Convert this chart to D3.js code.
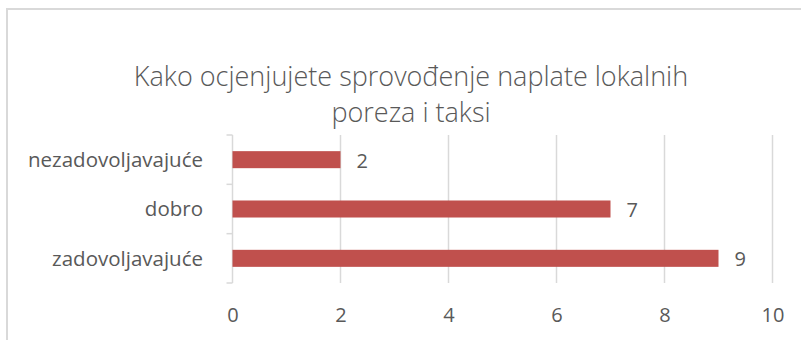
<!DOCTYPE html>
<html>
<head>
<meta charset="utf-8">
<script src="https://cdn.jsdelivr.net/npm/d3@7"></script>
<style>
  html, body { margin: 0; padding: 0; background: #ffffff; }
  svg { display: block; }
  text { font-family: "Open Sans", "Noto Sans", sans-serif; fill: #595959; }
</style>
</head>
<body>
<svg id="chart" width="801" height="340"></svg>
<script>
// Survey answers, listed top to bottom as drawn
const categories = ["nezadovoljavajuće", "dobro", "zadovoljavajuće"];
const values = [2, 7, 9];
const xTicks = [0, 2, 4, 6, 8, 10];
const titleLines = ["Kako ocjenjujete sprovođenje naplate lokalnih", "poreza i taksi"];

const svg = d3.select("#chart");

// Chart frame
svg.append("rect")
  .attr("x", 7).attr("y", 9)
  .attr("width", 820).attr("height", 360)
  .attr("fill", "none")
  .attr("stroke", "#d9d9d9")
  .attr("stroke-width", 2);

const plot = { left: 232.5, right: 772.5, top: 135, bottom: 283 };

const x = d3.scaleLinear().domain([0, 10]).range([plot.left, plot.right]);
const y = d3.scaleBand()
  .domain(categories)
  .range([plot.top, plot.bottom])
  .paddingInner(0.655)
  .paddingOuter(0.3275);

// Title
svg.append("text")
  .attr("text-anchor", "middle")
  .style("font-size", "27px")
  .style("font-weight", 300)
  .selectAll("tspan")
  .data(titleLines)
  .join("tspan")
  .attr("x", 411)
  .attr("y", (d, i) => 86 + i * 36)
  .text(d => d);

// Vertical gridlines
svg.append("g")
  .selectAll("line")
  .data(xTicks.filter(t => t > 0))
  .join("line")
  .attr("x1", d => x(d)).attr("x2", d => x(d))
  .attr("y1", plot.top).attr("y2", plot.bottom)
  .attr("stroke", "#d9d9d9")
  .attr("stroke-width", 1.5);

// Bottom value axis (labels only)
const xAxis = svg.append("g")
  .attr("transform", `translate(0,${plot.bottom})`)
  .call(d3.axisBottom(x).tickValues(xTicks).tickSize(0).tickPadding(25));
xAxis.select(".domain").remove();
xAxis.selectAll("text")
  .style("font-size", "20px")
  .attr("fill", "#595959")
  .attr("font-family", "'Open Sans', 'Noto Sans', sans-serif");

// Left category axis with boundary ticks between bands
const yAxisLine = svg.append("g");
yAxisLine.append("line")
  .attr("x1", plot.left).attr("x2", plot.left)
  .attr("y1", plot.top).attr("y2", plot.bottom)
  .attr("stroke", "#d9d9d9").attr("stroke-width", 1.5);
const boundaries = categories.map(c => y(c) - y.step() * y.paddingInner() / 2)
  .concat([plot.bottom]);
boundaries[0] = plot.top;
yAxisLine.selectAll("line.tick")
  .data(boundaries)
  .join("line")
  .attr("class", "tick")
  .attr("x1", plot.left - 6).attr("x2", plot.left)
  .attr("y1", d => d).attr("y2", d => d)
  .attr("stroke", "#d9d9d9").attr("stroke-width", 1.5);

// Category labels
svg.append("g")
  .selectAll("text")
  .data(categories)
  .join("text")
  .attr("x", 203)
  .attr("y", d => y(d) + y.bandwidth() / 2)
  .attr("dy", "0.35em")
  .attr("text-anchor", "end")
  .style("font-size", "20.5px")
  .text(d => d);

// Bars
svg.append("g")
  .selectAll("rect")
  .data(categories)
  .join("rect")
  .attr("x", x(0))
  .attr("y", d => y(d))
  .attr("width", (d, i) => x(values[i]) - x(0))
  .attr("height", y.bandwidth())
  .attr("fill", "#c0504d");

// Value labels
svg.append("g")
  .selectAll("text")
  .data(categories)
  .join("text")
  .attr("x", (d, i) => x(values[i]) + 16)
  .attr("y", d => y(d) + y.bandwidth() / 2 + 1)
  .attr("dy", "0.35em")
  .style("font-size", "20px")
  .text((d, i) => values[i]);
</script>
</body>
</html>
